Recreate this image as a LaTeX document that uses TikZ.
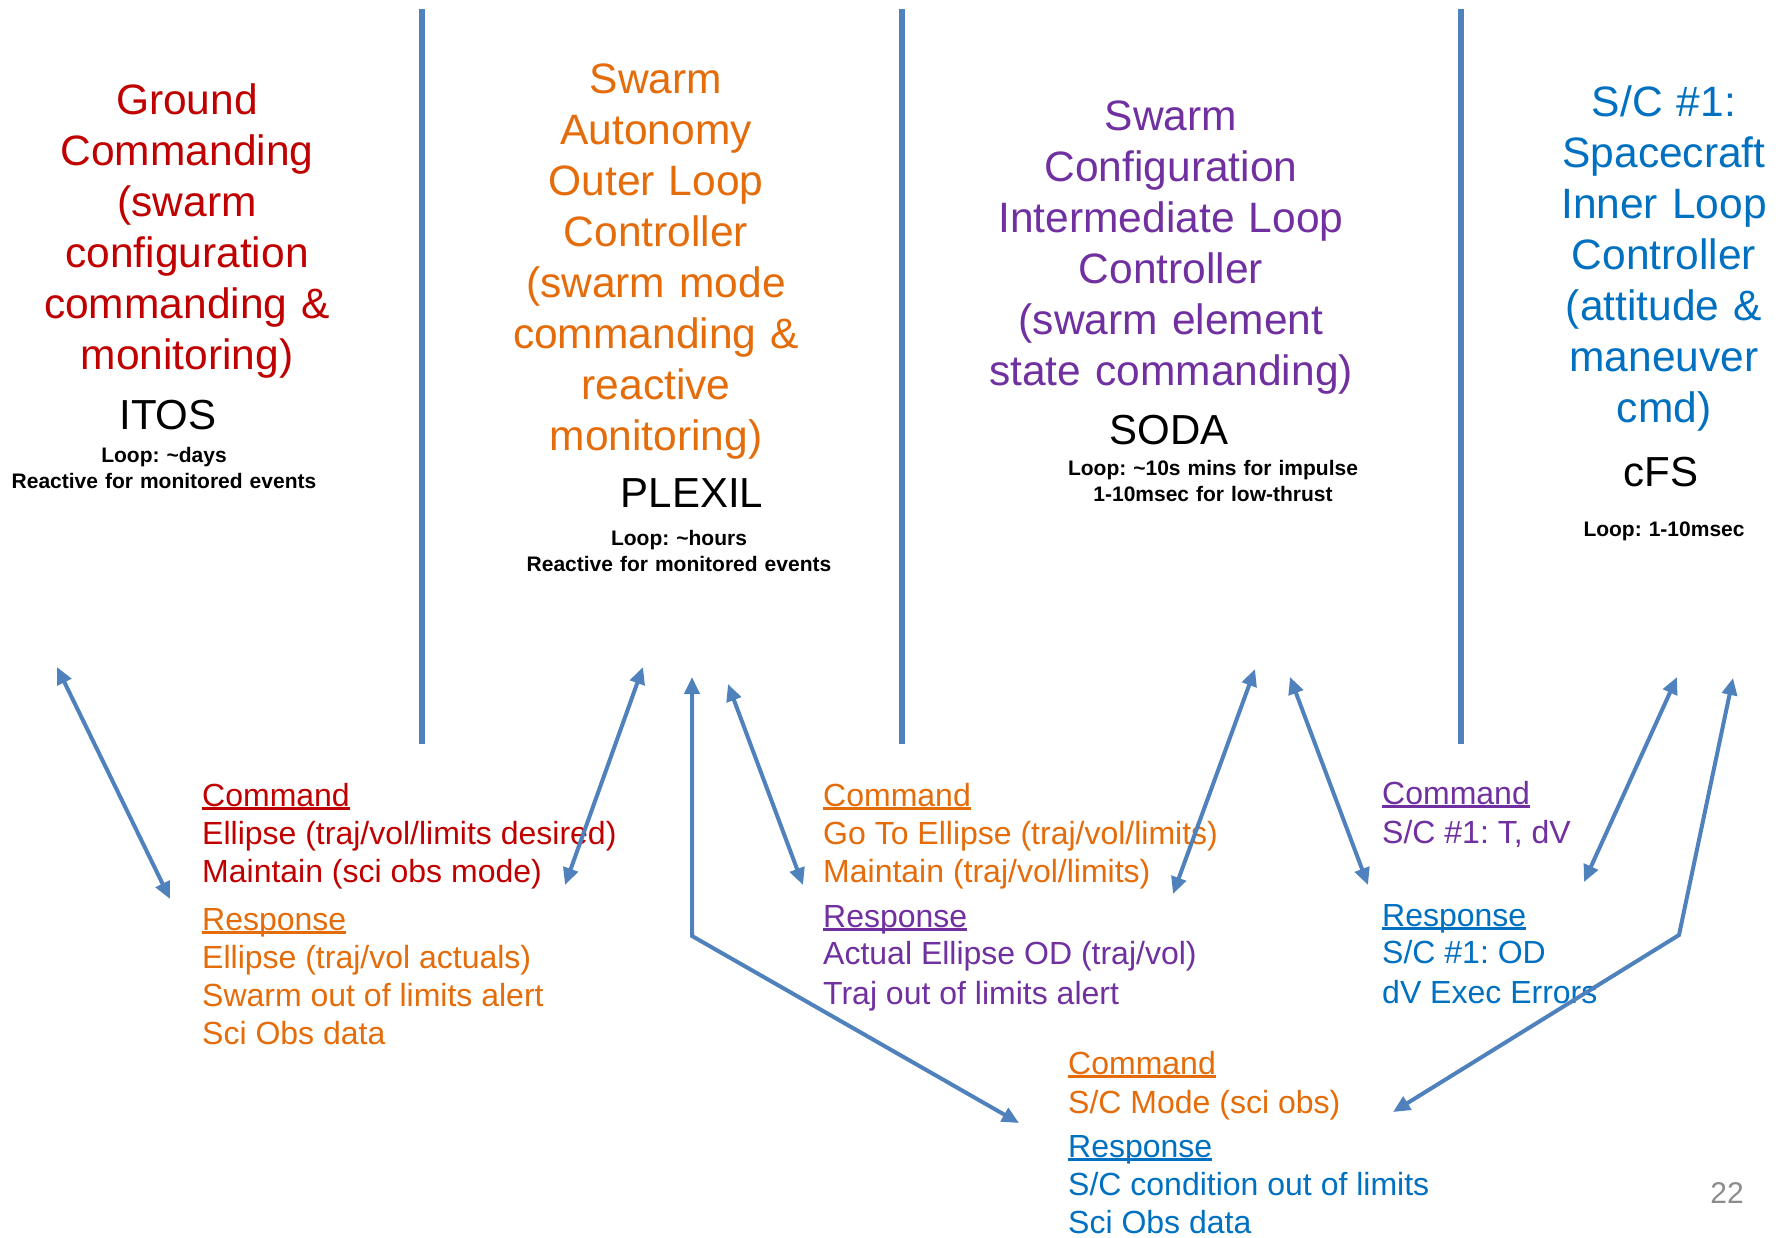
\documentclass[tikz,border=0pt]{standalone}
\usepackage{fontspec}
\setmainfont{Liberation Sans}
\usetikzlibrary{arrows.meta}
\definecolor{cred}{HTML}{C00000}
\definecolor{corange}{HTML}{E46C0A}
\definecolor{cpurple}{HTML}{7030A0}
\definecolor{cblue}{HTML}{0070C0}
\definecolor{lineblue}{HTML}{4F81BD}
\definecolor{pgnum}{HTML}{8C8C8C}
\frenchspacing
\hyphenpenalty=10000
\exhyphenpenalty=10000
\newcommand{\myul}[1]{\leavevmode\setbox0=\hbox{#1}\rlap{\rule[-3.5pt]{\wd0}{2.2pt}}\box0}
\tikzset{
  title/.style={font=\fontsize{42.5}{51}\selectfont, align=center, text width=400pt, anchor=base, inner sep=0pt},
  tool/.style={font=\fontsize{42}{50}\selectfont, anchor=base, inner sep=0pt},
  loopnote/.style={font=\bfseries\fontsize{21}{26}\selectfont, align=center, text width=400pt, anchor=base, inner sep=0pt},
  msg/.style={font=\fontsize{32}{38}\selectfont, anchor=base west, inner sep=0pt},
  divider/.style={draw=lineblue, line width=6pt},
  link/.style={draw=lineblue, line width=4pt, line join=miter, {Triangle[length=17pt,width=15pt]}-{Triangle[length=17pt,width=15pt]}}
}
\begin{document}
\begin{tikzpicture}[x=1pt,y=-1pt]
\useasboundingbox[fill=white] (0,0) rectangle (1779,1237);
% column dividers
\coordinate (d1t) at (422,9);   \coordinate (d1b) at (422,744);
\coordinate (d2t) at (902,9);   \coordinate (d2b) at (902,744);
\coordinate (d3t) at (1461,9);  \coordinate (d3b) at (1461,744);
\draw[divider] (d1t) -- (d1b);
\draw[divider] (d2t) -- (d2b);
\draw[divider] (d3t) -- (d3b);
% titles
\node[title, text=cred] (t1) at (187,114) {Ground\\Commanding\\(swarm\\configuration\\commanding \&\\monitoring)};
\node[title, text=corange] (t2) at (656,93) {Swarm\\Autonomy\\Outer Loop\\Controller\\(swarm mode\\commanding \&\\reactive\\monitoring)};
\node[title, text=cpurple] (t3) at (1171,130) {Swarm\\Configuration\\Intermediate Loop\\Controller\\(swarm element\\state commanding)};
\node[title, text=cblue] (t4) at (1664,116) {S/C \#1:\\Spacecraft\\Inner Loop\\Controller\\(attitude \&\\maneuver\\cmd)};
% tools
\node[tool] (itos) at (168,429) {ITOS};
\node[tool] (plexil) at (692,507) {PLEXIL};
\node[tool] (soda) at (1169,444) {SODA};
\node[tool] (cfs) at (1661,486) {cFS};
\node[loopnote] (l1) at (164,462) {Loop: \textasciitilde days\\Reactive for monitored events};
\node[loopnote] (l2) at (679,545) {Loop: \textasciitilde hours\\Reactive for monitored events};
\node[loopnote] (l3) at (1213,475) {Loop: \textasciitilde 10s mins for impulse\\1-10msec for low-thrust};
\node[loopnote] (l4) at (1664,536) {Loop: 1-10msec};
% box A
\node[msg, text=cred] (a1) at (202,806) {\myul{Command}};
\node[msg, text=cred] (a2) at (202,844) {Ellipse (traj/vol/limits desired)};
\node[msg, text=cred] (a3) at (202,882) {Maintain (sci obs mode)};
\node[msg, text=corange] (a4) at (202,930) {\myul{Response}};
\node[msg, text=corange] (a5) at (202,968) {Ellipse (traj/vol actuals)};
\node[msg, text=corange] (a6) at (202,1006) {Swarm out of limits alert};
\node[msg, text=corange] (a7) at (202,1044) {Sci Obs data};
% box B
\node[msg, text=corange] (b1) at (823,806) {\myul{Command}};
\node[msg, text=corange] (b2) at (823,844) {Go To Ellipse (traj/vol/limits)};
\node[msg, text=corange] (b3) at (823,882) {Maintain (traj/vol/limits)};
\node[msg, text=cpurple] (b4) at (823,927) {\myul{Response}};
\node[msg, text=cpurple] (b5) at (823,964) {Actual Ellipse OD (traj/vol)};
\node[msg, text=cpurple] (b6) at (823,1004) {Traj out of limits alert};
% box C
\node[msg, text=cpurple] (c1) at (1382,804) {\myul{Command}};
\node[msg, text=cpurple] (c2) at (1382,843) {S/C \#1: T, dV};
\node[msg, text=cblue] (c4) at (1382,926) {\myul{Response}};
\node[msg, text=cblue] (c5) at (1382,963) {S/C \#1: OD};
\node[msg, text=cblue] (c6) at (1382,1003) {dV Exec Errors};
% box D
\node[msg, text=corange] (e1) at (1068,1074) {\myul{Command}};
\node[msg, text=corange] (e2) at (1068,1113) {S/C Mode (sci obs)};
\node[msg, text=cblue] (e4) at (1068,1157) {\myul{Response}};
\node[msg, text=cblue] (e5) at (1068,1195) {S/C condition out of limits};
\node[msg, text=cblue] (e6) at (1068,1233) {Sci Obs data};
% page number
\node[font=\fontsize{30}{36}\selectfont, text=pgnum, anchor=base, inner sep=0pt] (pg) at (1727,1203) {22};
% connector end points
\coordinate (p1a) at (57,667);   \coordinate (p1b) at (170,899);
\coordinate (p2a) at (643,667);  \coordinate (p2b) at (565,885);
\coordinate (p3a) at (692,677);  \coordinate (p3m) at (692,936);  \coordinate (p3b) at (1019,1123);
\coordinate (p4a) at (728,684);  \coordinate (p4b) at (803,885);
\coordinate (p5a) at (1255,669); \coordinate (p5b) at (1173,894);
\coordinate (p6a) at (1290,677); \coordinate (p6b) at (1368,885);
\coordinate (p7a) at (1677,677); \coordinate (p7b) at (1584,882);
\coordinate (p8a) at (1733,678); \coordinate (p8m) at (1679,935); \coordinate (p8b) at (1393,1112);
\draw[link] (p1a) -- (p1b);
\draw[link] (p2a) -- (p2b);
\draw[link] (p3a) -- (p3m) -- (p3b);
\draw[link] (p4a) -- (p4b);
\draw[link] (p5a) -- (p5b);
\draw[link] (p6a) -- (p6b);
\draw[link] (p7a) -- (p7b);
\draw[link] (p8a) -- (p8m) -- (p8b);
\end{tikzpicture}
\end{document}
